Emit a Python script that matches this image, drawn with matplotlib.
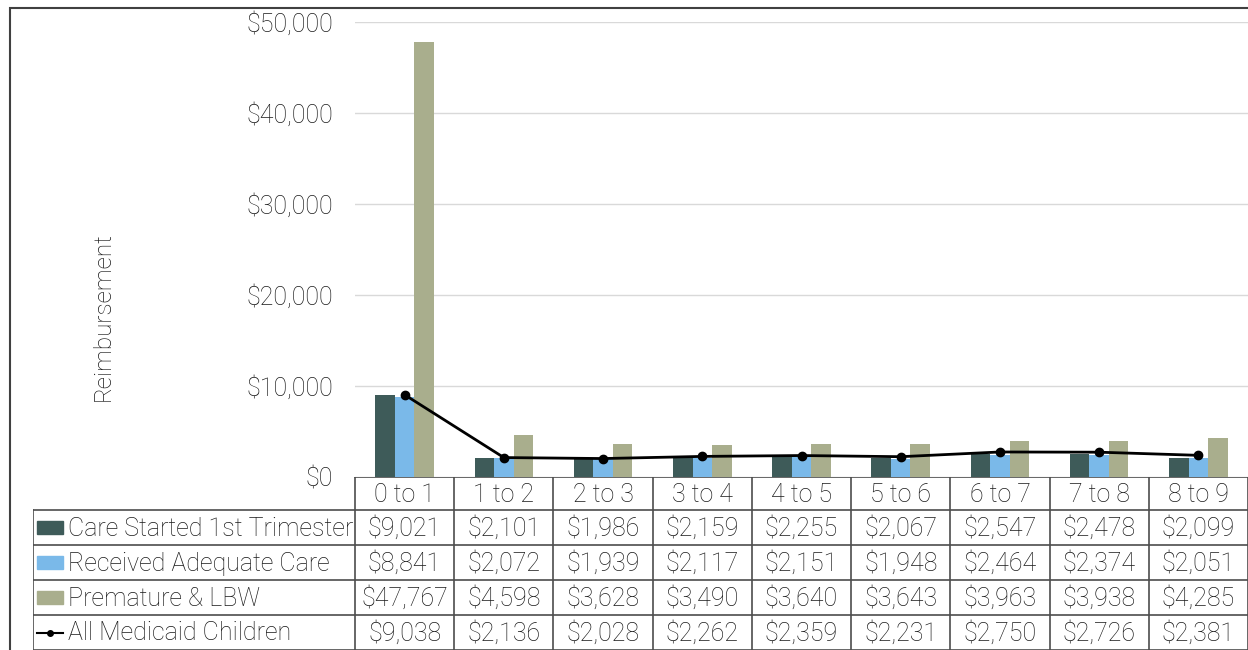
import numpy as np
import matplotlib
matplotlib.use("Agg")
import matplotlib.pyplot as plt
from matplotlib.patches import Rectangle

plt.rcParams['font.family'] = ['Roboto', 'DejaVu Sans']
plt.rcParams['font.weight'] = 'light'

# age groups and reimbursement per child
ages = ['0 to 1', '1 to 2', '2 to 3', '3 to 4', '4 to 5', '5 to 6', '6 to 7', '7 to 8', '8 to 9']
care_1st = [9021, 2101, 1986, 2159, 2255, 2067, 2547, 2478, 2099]
adequate = [8841, 2072, 1939, 2117, 2151, 1948, 2464, 2374, 2051]
premature = [47767, 4598, 3628, 3490, 3640, 3643, 3963, 3938, 4285]
all_kids = [9038, 2136, 2028, 2262, 2359, 2231, 2750, 2726, 2381]

bar_series = [('Care Started 1st Trimester', care_1st, '#3e5b59'),
              ('Received Adequate Care', adequate, '#7ab9e9'),
              ('Premature & LBW', premature, '#a9ae8d')]

W, H = 1248, 650
fig = plt.figure(figsize=(W / 100, H / 100), dpi=100)
txt = '#1a1a1a'
edge = '#4d4d4d'
fs = 18

def fx(px):
    return px / W

def fy(py):
    return 1 - py / H

# outer chart frame
fig.add_artist(Rectangle((fx(10), fy(700)), fx(1300), 692 / H, transform=fig.transFigure,
                         fill=False, ec='#404040', lw=1.5))

left, right, top, base = 355, 1248, 22, 477
ax = fig.add_axes([fx(left), fy(base), fx(right - left), (base - top) / H])
x = np.arange(len(ages))
bw = 0.197
for k, (name, vals, col) in enumerate(bar_series):
    ax.bar(x + (k - 1) * bw, vals, width=bw, color=col, zorder=2)
ax.plot(x, all_kids, color='black', lw=2, marker='o', ms=6, zorder=3)

ax.set_xlim(-0.5, len(ages) - 0.5)
ax.set_ylim(0, 50000)
ax.set_yticks(np.arange(0, 50001, 10000))
ax.set_yticklabels(['${:,.0f}'.format(v) for v in ax.get_yticks()], color=txt, fontsize=fs)
ax.tick_params(axis='y', length=0, pad=16)
ax.set_xticks([])
ax.grid(axis='y', color='#d9d9d9', lw=1, zorder=0)
for s in ax.spines.values():
    s.set_visible(False)
fig.text(fx(103), fy(317), 'Reimbursement', rotation=90, ha='center', va='center',
         color=txt, fontsize=17.5)

# data table underneath the plot, sharing the category columns
colw = (right - left) / len(ages)
tab_left = 33
tab = fig.add_axes([fx(tab_left), 0, fx(right - tab_left), (H - base) / H])
tab.set_xlim(-0.5 - (left - tab_left) / colw, len(ages) - 0.5)
tab.set_ylim(H - base, 0)
tab.axis('off')
lab_x0 = tab.get_xlim()[0]

head_h, row_h = 33, 35
rows_y = [head_h + i * row_h for i in range(5)]
tab.plot([-0.5, len(ages) - 0.5], [0, 0], color=edge, lw=1.2)
for yy in rows_y:
    tab.plot([lab_x0, len(ages) - 0.5], [yy, yy], color=edge, lw=1.2)
for i in range(len(ages) + 1):
    tab.plot([i - 0.5, i - 0.5], [0, H - base], color=edge, lw=1.2)
tab.plot([lab_x0, lab_x0], [head_h, H - base], color=edge, lw=1.2)

for i, a in enumerate(ages):
    tab.text(i, head_h / 2 + 1, a, ha='center', va='center', fontsize=fs, color=txt)

table_rows = [(n, v, c) for n, v, c in bar_series] + [('All Medicaid Children', all_kids, None)]
key_x = lab_x0 + 4 / colw
key_w = 26 / colw
for r, (name, vals, col) in enumerate(table_rows):
    yc = head_h + r * row_h + row_h / 2
    if col is not None:
        tab.add_patch(Rectangle((key_x, yc - 6.5), key_w, 13, color=col))
    else:
        tab.plot([key_x, key_x + key_w], [yc, yc], color='black', lw=1.5)
        tab.plot([key_x + key_w / 2], [yc], 'o', color='black', ms=4)
    tab.text(key_x + key_w + 5 / colw, yc + 1, name, ha='left', va='center', fontsize=fs, color=txt)
    for i, v in enumerate(vals):
        tab.text(i, yc + 1, '${:,}'.format(v), ha='center', va='center', fontsize=fs, color=txt)

fig.savefig('out.png', dpi=100)
